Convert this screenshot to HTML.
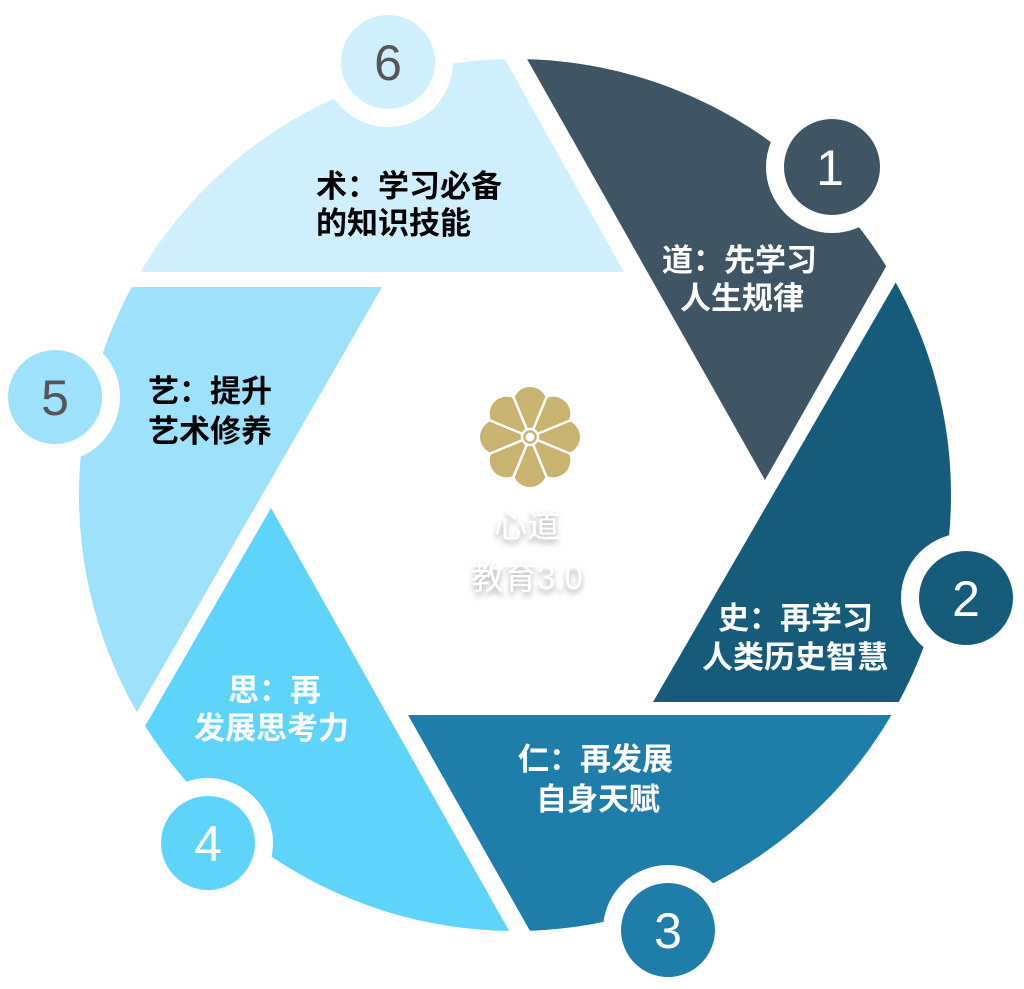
<!DOCTYPE html>
<html><head><meta charset="utf-8"><style>
html,body{margin:0;padding:0;background:#fff;}
svg{display:block;}
text{font-family:"Liberation Sans","Noto Sans CJK SC",sans-serif;}
.l{font-size:31px;font-weight:bold;}
.n{font-size:50px;text-anchor:middle;}
</style></head><body>
<svg width="1024" height="989" viewBox="0 0 1024 989" xmlns="http://www.w3.org/2000/svg">
<defs>
<clipPath id="c"><circle cx="515" cy="495" r="436"/></clipPath>
<filter id="sh" x="-20%" y="-20%" width="140%" height="160%"><feDropShadow dx="0" dy="4" stdDeviation="3" flood-color="#000" flood-opacity="0.35"/></filter>
</defs>
<g clip-path="url(#c)">
<polygon fill="#d0effc" points="0,-10 466,-10 624,272 0,272"/>
<polygon fill="#3f5564" points="488,-10 1043,-10 765,480"/>
<polygon fill="#175b7b" points="1065,-10 1100,-10 1100,702 653,702"/>
<polygon fill="#1f7ea9" points="408,715 1100,715 1100,1000 569,1000"/>
<polygon fill="#5fd4fb" points="271,508 548,1000 -13,1000"/>
<polygon fill="#9ee1fb" points="0,287 382,287 -29,1000 0,1000"/>
</g>
<g stroke="#fff" stroke-width="18">
<circle cx="388" cy="62" r="56" fill="#d0effc"/>
<circle cx="832" cy="167" r="57" fill="#3f5564"/>
<circle cx="966" cy="598" r="56" fill="#175b7b"/>
<circle cx="668" cy="930" r="56" fill="#1f7ea9"/>
<circle cx="208" cy="843" r="56" fill="#5fd4fb"/>
<circle cx="55" cy="397" r="56" fill="#9ee1fb"/>
</g>
<text x="388" y="80" fill="#555" class="n">6</text>
<text x="830" y="185" fill="#fff" class="n">1</text>
<text x="966" y="616" fill="#fff" class="n">2</text>
<text x="668" y="948" fill="#fff" class="n">3</text>
<text x="208" y="861" fill="#fff" class="n">4</text>
<text x="55" y="415" fill="#555" class="n">5</text>
<text class="l" fill="#000" x="316" y="197">术：学习必备</text>
<text class="l" fill="#000" x="316" y="234">的知识技能</text>
<text class="l" fill="#fff" x="662" y="271">道：先学习</text>
<text class="l" fill="#fff" x="680" y="309">人生规律</text>
<text class="l" fill="#fff" x="718" y="629">史：再学习</text>
<text class="l" fill="#fff" x="702" y="668">人类历史智慧</text>
<text class="l" fill="#fff" x="518" y="770">仁：再发展</text>
<text class="l" fill="#fff" x="536" y="810">自身天赋</text>
<text class="l" fill="#fff" x="228" y="701">思：再</text>
<text class="l" fill="#fff" x="194" y="739">发展思考力</text>
<text class="l" fill="#000" x="148" y="402">艺：提升</text>
<text class="l" fill="#000" x="148" y="442">艺术修养</text>
<g transform="translate(530,437)">
<g fill="#c9b370">
<circle cx="0" cy="-33" r="17"/><circle cx="0" cy="-33" r="17" transform="rotate(45)"/>
<circle cx="0" cy="-33" r="17" transform="rotate(90)"/><circle cx="0" cy="-33" r="17" transform="rotate(135)"/>
<circle cx="0" cy="-33" r="17" transform="rotate(180)"/><circle cx="0" cy="-33" r="17" transform="rotate(225)"/>
<circle cx="0" cy="-33" r="17" transform="rotate(270)"/><circle cx="0" cy="-33" r="17" transform="rotate(315)"/>
<circle r="22"/>
</g>
<g stroke="#fff" stroke-width="2.5">
<line x1="0" y1="0" x2="0" y2="-48" transform="rotate(22.5)"/>
<line x1="0" y1="0" x2="0" y2="-48" transform="rotate(67.5)"/>
<line x1="0" y1="0" x2="0" y2="-48" transform="rotate(112.5)"/>
<line x1="0" y1="0" x2="0" y2="-48" transform="rotate(157.5)"/>
<line x1="0" y1="0" x2="0" y2="-48" transform="rotate(202.5)"/>
<line x1="0" y1="0" x2="0" y2="-48" transform="rotate(247.5)"/>
<line x1="0" y1="0" x2="0" y2="-48" transform="rotate(292.5)"/>
<line x1="0" y1="0" x2="0" y2="-48" transform="rotate(337.5)"/>
</g>
<circle r="8" fill="#c9b370" stroke="#fff" stroke-width="2.5"/>
<circle r="4.5" fill="#fff"/>
</g>
<g filter="url(#sh)" fill="#fff" font-size="33">
<text x="494" y="537">心道</text>
<text x="471" y="589">教育3.0</text>
</g>
</svg>
</body></html>
